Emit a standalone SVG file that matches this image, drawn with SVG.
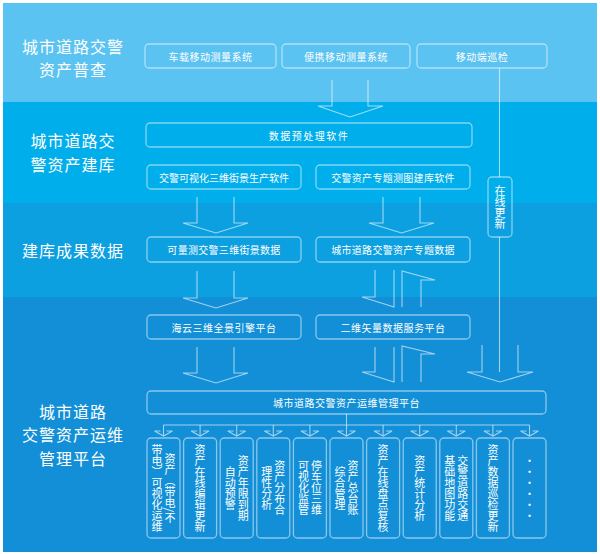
<svg xmlns="http://www.w3.org/2000/svg" width="600" height="554" viewBox="0 0 600 554">
<defs>
<style>
.band-label{font-family:"Noto Sans CJK SC","Noto Sans",sans-serif;font-size:16px;letter-spacing:1px;fill:#ffffff;text-anchor:middle}
.box{fill:none;stroke:#ffffff;stroke-opacity:0.5;stroke-width:1.3}
.t{font-family:"Noto Sans CJK SC","Noto Sans",sans-serif;font-size:10px;fill:#ffffff;text-anchor:middle;dominant-baseline:central}
.v{font-family:"Noto Sans CJK SC","Noto Sans",sans-serif;font-size:11px;fill:#ffffff;text-anchor:middle;writing-mode:vertical-rl;dominant-baseline:central}
.arr{fill:none;stroke:#ffffff;stroke-opacity:0.6;stroke-width:1.1;stroke-linejoin:miter}
</style>
<path id="mini" d="M0 0 V11 M-9 6 H-3 M3 6 H9 M-9 6 L0 11 L9 6" class="arr"/>
</defs>
<rect x="0" y="0" width="600" height="554" fill="#ffffff"/>
<rect x="3" y="3" width="594" height="99" fill="#5BC3F1"/>
<rect x="3" y="102" width="594" height="101" fill="#00AEEB"/>
<rect x="3" y="203" width="594" height="94" fill="#0CA0E1"/>
<rect x="3" y="297" width="594" height="255" fill="#128FD7"/>

<g id="labels">
<text class="band-label" x="73" y="52.6">城市道路交警<tspan x="73" dy="23.5">资产普查</tspan></text>
<text class="band-label" x="73" y="147.4">城市道路交<tspan x="73" dy="23.5">警资产建库</tspan></text>
<text class="band-label" x="73" y="257">建库成果数据</text>
<text class="band-label" x="73" y="417.6">城市道路<tspan x="73" dy="23.5">交警资产运维</tspan><tspan x="73" dy="23.5">管理平台</tspan></text>
</g>

<g id="connectors">
<path class="arr" d="M332 80 V106 H318 L350 117 L383 106 H368 V80"/>
<path class="arr" d="M197 197 V223 H183 L216 233 L248 223 H234 V197"/>
<path class="arr" d="M383 197 V223 H369 L401.5 233 L434 223 H420 V197"/>
<path class="arr" d="M197 271 V298 H183 L216 308 L248 298 H234 V271"/>
<path class="arr" d="M197 347 V373 H183 L216 383 L248 373 H234 V347"/>
<path class="arr" d="M375 270 V297 H362 L394 307 V270"/>
<path class="arr" d="M402 307 V271 L435 280 H421 V307"/>
<path class="arr" d="M375 347 V372 H362 L394 382 V347"/>
<path class="arr" d="M402 382 V346 L435 354 H421 V382"/>
<path class="arr" d="M482 345 V372 H467 L500 382 L533 372 H518 V345"/>
<path class="arr" d="M499.5 68 V177 M499.5 237 V372"/>
<path class="arr" d="M346.5 414 V425 M163.5 425 H529.5"/>
<use href="#mini" x="163.5" y="425"/>
<use href="#mini" x="200.1" y="425"/>
<use href="#mini" x="236.7" y="425"/>
<use href="#mini" x="273.3" y="425"/>
<use href="#mini" x="309.9" y="425"/>
<use href="#mini" x="346.5" y="425"/>
<use href="#mini" x="383.1" y="425"/>
<use href="#mini" x="419.7" y="425"/>
<use href="#mini" x="456.3" y="425"/>
<use href="#mini" x="492.9" y="425"/>
<use href="#mini" x="529.5" y="425"/>
</g>

<g id="n-chezai"><rect class="box" x="145" y="44" width="131" height="24" rx="4"/><text class="t" x="210.5" y="56" letter-spacing="0.5">车载移动测量系统</text></g>
<g id="n-bianxie"><rect class="box" x="282" y="44" width="128" height="24" rx="4"/><text class="t" x="346" y="56" letter-spacing="0.5">便携移动测量系统</text></g>
<g id="n-yidong"><rect class="box" x="417" y="44" width="130" height="24" rx="4"/><text class="t" x="482" y="56" letter-spacing="0.5">移动端巡检</text></g>
<g id="n-yuchuli"><rect class="box" x="146" y="123" width="326" height="24" rx="4"/><text class="t" x="309" y="135" letter-spacing="1.5">数据预处理软件</text></g>
<g id="n-jiejing"><rect class="box" x="147" y="165" width="154" height="24" rx="4"/><text class="t" x="224" y="177">交警可视化三维街景生产软件</text></g>
<g id="n-cetu"><rect class="box" x="316" y="165" width="154" height="24" rx="4"/><text class="t" x="393" y="177" letter-spacing="0.3">交警资产专题测图建库软件</text></g>
<g id="n-gengxin"><rect class="box" x="488" y="177" width="24" height="60" rx="4"/><text class="v" x="500" y="207">在线更新</text></g>
<g id="n-jiejingdata"><rect class="box" x="147" y="237" width="154" height="25" rx="4"/><text class="t" x="224" y="249.5" letter-spacing="0.3">可量测交警三维街景数据</text></g>
<g id="n-zhuanti"><rect class="box" x="316" y="237" width="154" height="25" rx="4"/><text class="t" x="393" y="249.5" letter-spacing="0.3">城市道路交警资产专题数据</text></g>
<g id="n-haiyun"><rect class="box" x="147" y="315" width="154" height="24" rx="4"/><text class="t" x="224" y="327" letter-spacing="0.5">海云三维全景引擎平台</text></g>
<g id="n-erwei"><rect class="box" x="316" y="315" width="154" height="24" rx="4"/><text class="t" x="393" y="327" letter-spacing="0.5">二维矢量数据服务平台</text></g>
<g id="n-platform"><rect class="box" x="147" y="391" width="399" height="23" rx="4"/><text class="t" x="346.5" y="402.5" font-size="11" letter-spacing="0.5">城市道路交警资产运维管理平台</text></g>

<g id="c1"><rect class="box" x="147" y="438" width="33" height="100" rx="4"/><text class="v" x="170" y="488">资产（带电/不</text><text class="v" x="157" y="488">带电）可视化运维</text></g>
<g id="c2"><rect class="box" x="183.6" y="438" width="33" height="100" rx="4"/><text class="v" x="200.1" y="488">资产在线编辑更新</text></g>
<g id="c3"><rect class="box" x="220.2" y="438" width="33" height="100" rx="4"/><text class="v" x="243.2" y="488">资产年限到期</text><text class="v" x="230.2" y="488">自动预警</text></g>
<g id="c4"><rect class="box" x="256.8" y="438" width="33" height="100" rx="4"/><text class="v" x="279.8" y="488">资产分布合</text><text class="v" x="266.8" y="488">理性分析</text></g>
<g id="c5"><rect class="box" x="293.4" y="438" width="33" height="100" rx="4"/><text class="v" x="316.4" y="488">停车位三维</text><text class="v" x="303.4" y="488">可视化监管</text></g>
<g id="c6"><rect class="box" x="330" y="438" width="33" height="100" rx="4"/><text class="v" x="353" y="488">资产总台账</text><text class="v" x="340" y="488">综合管理</text></g>
<g id="c7"><rect class="box" x="366.6" y="438" width="33" height="100" rx="4"/><text class="v" x="383.1" y="488">资产在线盘点复核</text></g>
<g id="c8"><rect class="box" x="403.2" y="438" width="33" height="100" rx="4"/><text class="v" x="419.7" y="488">资产统计分析</text></g>
<g id="c9"><rect class="box" x="439.8" y="438" width="33" height="100" rx="4"/><text class="v" x="462.8" y="488">交警道路交通</text><text class="v" x="449.8" y="488">基础地图功能</text></g>
<g id="c10"><rect class="box" x="476.4" y="438" width="33" height="100" rx="4"/><text class="v" x="492.9" y="488">资产数据巡检更新</text></g>
<g id="c11"><rect class="box" x="513" y="438" width="33" height="100" rx="4"/><text class="v" x="529.5" y="488" font-size="7" style="text-orientation:upright">······</text></g>
</svg>
